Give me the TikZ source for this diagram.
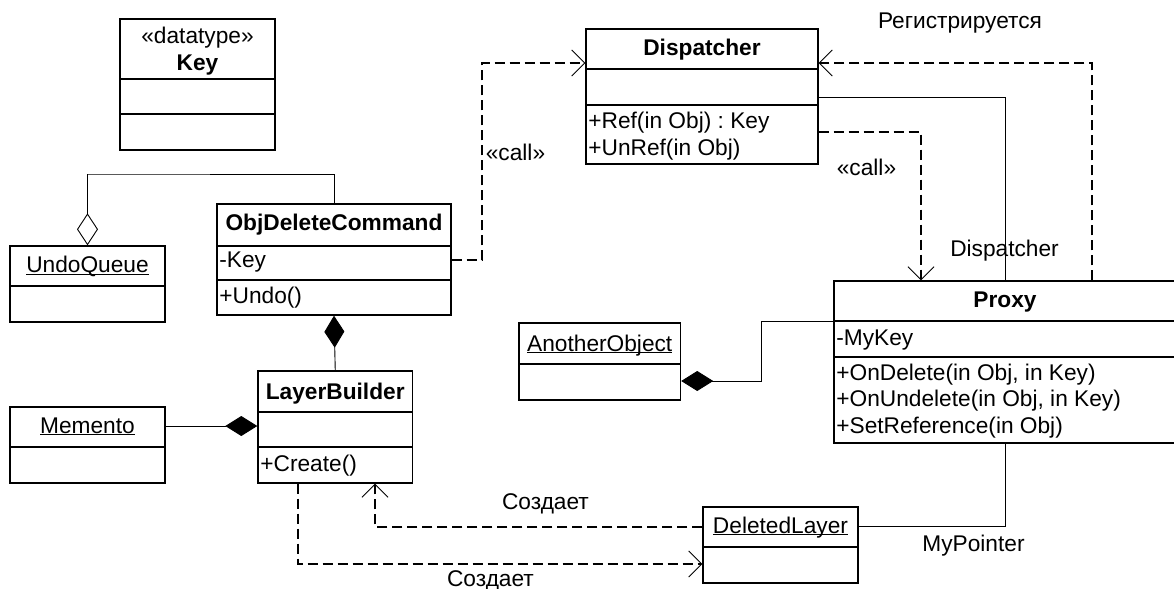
\documentclass[tikz,border=0pt]{standalone}
\usepackage{fontspec}
\setmainfont{Liberation Sans}
\usetikzlibrary{arrows.meta,fit}
\frenchspacing
% underline that sits just under the baseline, whatever the descenders
\newcommand\undl[1]{\setbox0\hbox{#1}\rlap{\rule[-1pt]{\wd0}{0.5pt}}\box0}

\begin{document}
\begin{tikzpicture}[x=0.5pt,y=-0.5pt,
  every node/.style={inner sep=0pt, font=\fontsize{11.35}{13.6}\selectfont},
  classbox/.style={draw, line width=0.7pt, inner sep=0pt},
  divline/.style={line width=0.7pt},
  title/.style={anchor=base, font=\fontsize{11.35}{13.6}\selectfont\bfseries},
  member/.style={anchor=base west},
  lbl/.style={anchor=base},
  assoc/.style={line width=0.45pt},
  comp/.style={line width=0.45pt, {Diamond[length=16pt,width=10pt]}-},
  agg/.style={line width=0.45pt, {Diamond[open,length=16pt,width=10.5pt,fill=white]}-},
  dep/.style={line width=0.7pt, dash pattern=on 5pt off 2.5pt,
    -{Straight Barb[length=6.5pt,width=13pt,line width=0.45pt]}}]

\clip (0,0) rectangle (1174,589);
\fill[white] (0,0) rectangle (1174,589);

% ---- Key (datatype)
\node[classbox, fit={(120,19) (275,150)}] (key) {};
\draw[divline] (120,79) -- (275,79);
\draw[divline] (120,114) -- (275,114);
\node[lbl] (keyst) at (197.5,43.3) {«datatype»};
\node[title] (keyname) at (197.5,70) {Key};

% ---- UndoQueue
\node[classbox, fit={(10,246) (165,322)}] (uq) {};
\draw[divline] (10,286) -- (165,286);
\node[lbl] (uqname) at (87.5,272.7) {\undl{UndoQueue}};

% ---- ObjDeleteCommand
\node[classbox, fit={(217,204) (451,315)}] (odc) {};
\draw[divline] (217,246) -- (451,246);
\draw[divline] (217,280) -- (451,280);
\node[title] (odcname) at (334,230.7) {ObjDeleteCommand};
\node[member] (odckey) at (219,267.7) {-Key};
\node[member] (odcundo) at (219,303.3) {+Undo()};

% ---- Dispatcher
\node[classbox, fit={(586,29) (818,164)}] (disp) {};
\draw[divline] (586,69) -- (818,69);
\draw[divline] (586,105) -- (818,105);
\node[title] (dispname) at (702,55.7) {Dispatcher};
\node[member] (dispref) at (588,128.3) {+Ref(in Obj) : Key};
\node[member] (dispunref) at (588,155) {+UnRef(in Obj)};

% ---- LayerBuilder
\node[classbox, fit={(258,371) (412.5,483)}] (lb) {};
\draw[divline] (258,412) -- (412.5,412);
\draw[divline] (258,447) -- (412.5,447);
\node[title] (lbname) at (335.25,399) {LayerBuilder};
\node[member] (lbcreate) at (260,471) {+Create()};

% ---- Memento
\node[classbox, fit={(10,407) (165,483)}] (mem) {};
\draw[divline] (10,447) -- (165,447);
\node[lbl] (memname) at (87.5,433.3) {\undl{Memento}};

% ---- AnotherObject
\node[classbox, fit={(519,323) (680.5,400)}] (ao) {};
\draw[divline] (519,364) -- (680.5,364);
\node[lbl] (aoname) at (599.75,351) {\undl{AnotherObject}};

% ---- Proxy
\node[classbox, fit={(834,281) (1176,443)}] (prx) {};
\draw[divline] (834,321) -- (1176,321);
\draw[divline] (834,357) -- (1176,357);
\node[title] (prxname) at (1005,307.7) {Proxy};
\node[member] (prxkey) at (836,345) {-MyKey};
\node[member] (prxdel) at (836,380) {+OnDelete(in Obj, in Key)};
\node[member] (prxundel) at (836,406.7) {+OnUndelete(in Obj, in Key)};
\node[member] (prxset) at (836,433.3) {+SetReference(in Obj)};

% ---- DeletedLayer
\node[classbox, fit={(703,507) (858,583)}] (dl) {};
\draw[divline] (703,547) -- (858,547);
\node[lbl] (dlname) at (780.5,533.3) {\undl{DeletedLayer}};

% ---- bend points of the connectors
\coordinate (qbend) at (88,174);
\coordinate (callA1) at (482,260);
\coordinate (callA2) at (482,63);
\coordinate (callB) at (921,132);
\coordinate (regB) at (1092,63);
\coordinate (dispB) at (1005,97);
\coordinate (aoB1) at (761,381);
\coordinate (aoB2) at (761,321);
\coordinate (ptrB) at (1005,526);
\coordinate (mkB) at (200,426);
\coordinate (crA) at (375,527);
\coordinate (crB) at (298,564);

% ---- connectors
\draw[agg] (uq.north) |- (qbend) -| (odc.north);
\draw[comp] (odc.south) -- (lb.north);
\draw[comp] (lb.west |- mkB) -- (mem.east |- mkB);
\draw[dep] (odc.east |- callA1) -- (callA1) -- (callA2) -- (disp.west |- callA2);
\draw[dep] (disp.east |- callB) -- (callB) -- (callB |- prx.north);
\draw[dep] (regB |- prx.north) -- (regB) -- (disp.east |- regB);
\draw[assoc] (disp.east |- dispB) -- (dispB) -- (dispB |- prx.north);
\draw[comp] (ao.east |- aoB1) -- (aoB1) -- (aoB2) -- (prx.west |- aoB2);
\draw[assoc] (ptrB |- prx.south) -- (ptrB) -- (dl.east |- ptrB);
\draw[dep] (dl.west |- crA) -- (crA) -- (crA |- lb.south);
\draw[dep] (crB |- lb.south) -- (crB) -- (dl.west |- crB);

% ---- connector labels
\node[lbl] (regl) at (960,28.3) {Регистрируется};
\node[lbl] (calll1) at (515.5,160.7) {«call»};
\node[lbl] (calll2) at (866.5,175.7) {«call»};
\node[lbl] (displ) at (1004.5,256.7) {Dispatcher};
\node[lbl] (crl1) at (545.5,509.3) {Создает};
\node[lbl] (crl2) at (490.5,586.7) {Создает};
\node[lbl] (ptrl) at (973.5,551.7) {MyPointer};
\end{tikzpicture}
\end{document}
